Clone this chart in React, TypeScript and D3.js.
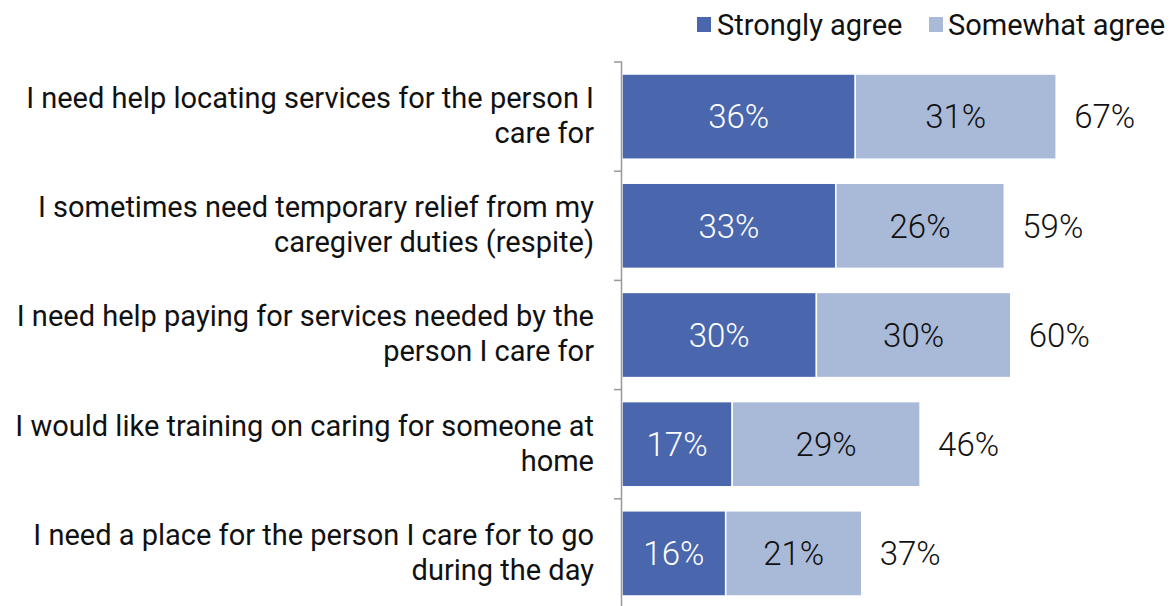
import React from "react";
import * as d3 from "d3";

const categories: string[][] = [
  ["I need help locating services for the person I", "care for"],
  ["I sometimes need temporary relief from my", "caregiver duties (respite)"],
  ["I need help paying for services needed by the", "person I care for"],
  ["I would like training on caring for someone at", "home"],
  ["I need a place for the person I care for to go", "during the day"],
];
const strongly: number[] = [36, 33, 30, 17, 16];
const somewhat: number[] = [31, 26, 30, 29, 21];
const totals: number[] = [67, 59, 60, 46, 37];
const seriesNames: string[] = ["Strongly agree", "Somewhat agree"];
const colors = ["#4A66AC", "#A9B9D8"];

const W = 1171;
const H = 606;
const FONT = "Roboto, 'Noto Sans', sans-serif";
const FS = 29;
const NFS = 33;

export default function App() {
  const x = d3.scaleLinear().domain([0, 100]).range([622, 622 + 648]);
  const y = d3
    .scaleBand<number>()
    .domain(d3.range(categories.length))
    .range([62, 608])
    .paddingInner(0.22)
    .paddingOuter(0.11);
  const step = y.step();
  const tickYs = d3.range(categories.length + 1).map((i) => 62 + i * step);

  return (
    <svg
      width={W}
      height={H}
      style={{ position: "absolute", left: 0, top: 0, background: "#fff" }}
      fontFamily={FONT}
    >
      {/* legend */}
      <g>
        <rect x={697} y={17} width={14} height={15} fill={colors[0]} />
        <text x={717} y={24.5} dy="0.36em" fontSize={FS} fill="#111">
          {seriesNames[0]}
        </text>
        <rect x={929} y={17} width={14} height={15} fill={colors[1]} />
        <text x={948} y={24.5} dy="0.36em" fontSize={FS} fill="#111">
          {seriesNames[1]}
        </text>
      </g>

      {/* bars */}
      {categories.map((lines, i) => {
        const y0 = y(i)!;
        const bh = y.bandwidth();
        const cy = y0 + bh / 2;
        const x0 = x(0);
        const x1 = x(strongly[i]);
        const x2 = x(strongly[i] + somewhat[i]);
        return (
          <g key={i}>
            <rect x={x0} y={y0} width={x1 - x0} height={bh} fill={colors[0]} stroke="#fff" strokeWidth={1.5} />
            <rect x={x1} y={y0} width={x2 - x1} height={bh} fill={colors[1]} stroke="#fff" strokeWidth={1.5} />
            <text x={(x0 + x1) / 2} y={cy} dy="0.36em" textAnchor="middle" fontSize={NFS} fontWeight={300} fill="#fff">
              {strongly[i]}%
            </text>
            <text x={(x1 + x2) / 2} y={cy} dy="0.36em" textAnchor="middle" fontSize={NFS} fontWeight={300} fill="#111">
              {somewhat[i]}%
            </text>
            <text x={x(totals[i]) + 18} y={cy} dy="0.36em" textAnchor="start" fontSize={NFS} fontWeight={300} fill="#111">
              {totals[i]}%
            </text>
            {lines.map((ln, j) => (
              <text
                key={j}
                x={594}
                y={cy - 1.5 + (j - (lines.length - 1) / 2) * 35}
                dy="0.36em"
                textAnchor="end"
                fontSize={FS}
                fill="#111"
              >
                {ln}
              </text>
            ))}
          </g>
        );
      })}

      {/* axis */}
      <line x1={621.5} x2={621.5} y1={62} y2={H} stroke="#999" strokeWidth={1.5} />
      {tickYs.map((ty, i) => (
        <line key={i} x1={614} x2={622} y1={ty} y2={ty} stroke="#999" strokeWidth={1.5} />
      ))}
    </svg>
  );
}
